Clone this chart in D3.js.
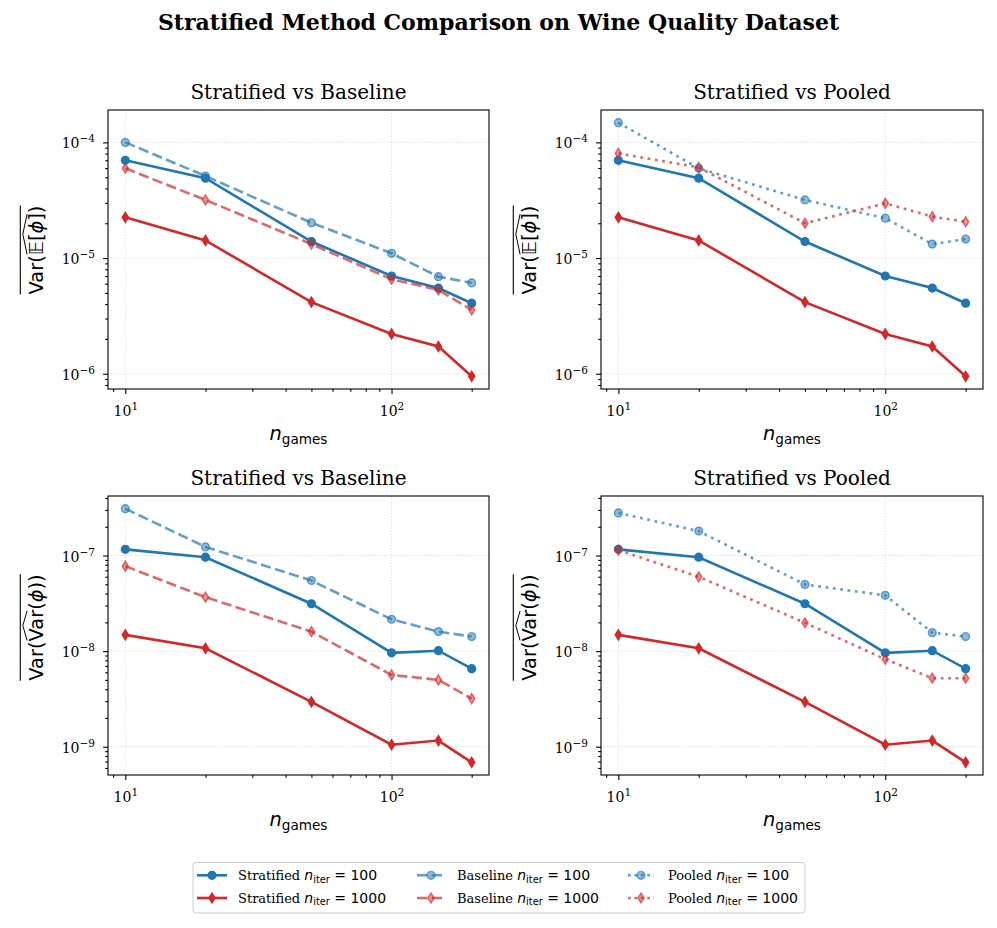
<!DOCTYPE html>
<html>
<head>
<meta charset="utf-8">
<script src="https://d3js.org/d3.v7.min.js"></script>
<style>
body { margin: 0; background: #fff; }
svg { display: block; }
</style>
</head>
<body>
<svg id="chart" width="997" height="928"></svg>
<script>
// data
var nGames = [10, 20, 50, 100, 150, 200];

// top row: mean of Var(E[phi])
var stratMean100  = [7.0e-5, 4.9e-5, 1.39e-5, 7.0e-6, 5.5e-6, 4.07e-6];
var stratMean1000 = [2.25e-5, 1.42e-5, 4.16e-6, 2.21e-6, 1.72e-6, 9.5e-7];
var baseMean100   = [1.0e-4, 5.12e-5, 2.02e-5, 1.10e-5, 6.9e-6, 6.1e-6];
var baseMean1000  = [5.97e-5, 3.18e-5, 1.32e-5, 6.56e-6, 5.3e-6, 3.57e-6];
var poolMean100   = [1.48e-4, 5.97e-5, 3.18e-5, 2.21e-5, 1.32e-5, 1.46e-5];
var poolMean1000  = [8.03e-5, 6.08e-5, 2.0e-5, 2.97e-5, 2.28e-5, 2.06e-5];

// bottom row: mean of Var(Var(phi))
var stratVar100  = [1.16e-7, 9.6e-8, 3.13e-8, 9.6e-9, 1.01e-8, 6.56e-9];
var stratVar1000 = [1.48e-8, 1.07e-8, 2.95e-9, 1.05e-9, 1.16e-9, 6.87e-10];
var baseVar100   = [3.09e-7, 1.23e-7, 5.48e-8, 2.15e-8, 1.6e-8, 1.42e-8];
var baseVar1000  = [7.74e-8, 3.67e-8, 1.6e-8, 5.64e-9, 5.0e-9, 3.19e-9];
var poolVar100   = [2.79e-7, 1.8e-7, 4.98e-8, 3.83e-8, 1.56e-8, 1.42e-8];
var poolVar1000  = [1.14e-7, 5.99e-8, 1.98e-8, 8.22e-9, 5.21e-9, 5.21e-9];

var panelTitles = ["Stratified vs Baseline", "Stratified vs Pooled"];
var legendLabels = [
    ["Stratified", "100"], ["Stratified", "1000"],
    ["Baseline", "100"], ["Baseline", "1000"],
    ["Pooled", "100"], ["Pooled", "1000"]
];

// colours and styles
var BLUE = "#1f77b4", RED = "#d62728";
var SERIF = "DejaVu Serif", SANS = "DejaVu Sans";
var LW = 2.6;
var DASHED = "10.3,4.4", DOTTED = "2.8,4.6";

var cols = [{left: 108, right: 489}, {left: 601, right: 983}];
var rows = [{top: 110, bottom: 389}, {top: 496, bottom: 775}];

var svg = d3.select("#chart");

// suptitle
svg.append("text")
   .attr("x", 498.5)
   .attr("y", 30)
   .attr("text-anchor", "middle")
   .style("font-family", SERIF)
   .style("font-weight", "bold")
   .style("font-size", "22px")
   .text("Stratified Method Comparison on Wine Quality Dataset");

// log-space padding like matplotlib autoscale (5%)
function paddedLogDomain(values) {
    var lo = Math.log10(d3.min(values)), hi = Math.log10(d3.max(values));
    var pad = (hi - lo) * 0.05;
    return [Math.pow(10, lo - pad), Math.pow(10, hi + pad)];
}

var xDomain = paddedLogDomain(nGames);
var rowSeries = [
    {s100: stratMean100, s1000: stratMean1000, base: [baseMean100, baseMean1000], pool: [poolMean100, poolMean1000], label: "mean"},
    {s100: stratVar100, s1000: stratVar1000, base: [baseVar100, baseVar1000], pool: [poolVar100, poolVar1000], label: "var"}
];

function sciLabel(sel, supSize) {
    sel.each(function(d) {
        var t = d3.select(this), e = Math.round(Math.log10(d));
        t.text(null);
        t.append("tspan").text("10");
        t.append("tspan")
         .attr("dy", "-0.58em")
         .style("font-size", supSize + "px")
         .text(e < 0 ? "\u2212" + (-e) : String(e));
    });
}

function isMajor(d) {
    var e = Math.log10(d);
    return Math.abs(e - Math.round(e)) < 1e-9;
}

// draws a horizontal run of math pieces, returns width and hat spans
function mathRun(g, parts, size) {
    var x = 0, hats = [], cur = null;
    parts.forEach(function(p) {
        var base = p.size || size;
        var fs = p.sub ? base * 0.7 : base;
        var t = g.append("text")
                 .attr("x", x)
                 .attr("y", p.sub ? base * 0.2 : 0)
                 .style("white-space", "pre")
                 .style("font-family", p.serif ? SERIF : SANS)
                 .style("font-style", p.it ? "italic" : "normal")
                 .style("font-size", fs + "px")
                 .text(p.t);
        var w = t.node().getComputedTextLength();
        if (p.hat) {
            if (cur) cur[1] = x + w; else { cur = [x, x + w]; hats.push(cur); }
        } else {
            cur = null;
        }
        x += w;
    });
    return {width: x, hats: hats};
}

function yLabel(parent, which, bx, cy) {
    var size = 19.4;
    var parts = which == "mean"
        ? [{t: "Var("}, {t: "\u{1D53C}", it: true, hat: true}, {t: "[", hat: true}, {t: "\u03D5", it: true, hat: true}, {t: "]", hat: true}, {t: ")"}]
        : [{t: "Var("}, {t: "Var", hat: true}, {t: "("}, {t: "\u03D5", it: true}, {t: "))"}];
    var g = parent.append("g");
    var run = mathRun(g, parts, size);
    g.attr("transform", "translate(" + bx + "," + cy + ") rotate(-90) translate(" + (-run.width / 2) + ",0)");
    // overline over the whole label
    g.append("line")
     .attr("x1", 0).attr("x2", run.width)
     .attr("y1", -size * 1.17).attr("y2", -size * 1.17)
     .attr("stroke", "#000").attr("stroke-width", 1.1);
    run.hats.forEach(function(h) {
        var mid = (h[0] + h[1]) / 2;
        g.append("path")
         .attr("d", "M" + (h[0] + 1) + "," + (-size * 0.82) + "L" + mid + "," + (-size * 1.04) + "L" + (h[1] - 1) + "," + (-size * 0.82))
         .attr("fill", "none").attr("stroke", "#000").attr("stroke-width", 1);
    });
}

function thinDiamond(h, w) {
    return "M0," + (-h) + "L" + w + ",0L0," + h + "L" + (-w) + ",0Z";
}

function drawMarkers(g, pts, shape, color, fillOp, strokeOp) {
    pts.forEach(function(p) {
        var m;
        if (shape == "o") {
            m = g.append("circle").attr("cx", p[0]).attr("cy", p[1]).attr("r", 3.9);
        } else {
            m = g.append("path").attr("d", thinDiamond(5.0, 3.1))
                 .attr("transform", "translate(" + p[0] + "," + p[1] + ")");
        }
        m.attr("fill", color).attr("fill-opacity", fillOp)
         .attr("stroke", color).attr("stroke-opacity", strokeOp)
         .attr("stroke-width", 1.4);
    });
}

function drawSeries(g, x, y, values, style) {
    var pts = nGames.map(function(n, i) { return [x(n), y(values[i])]; });
    var line = d3.line();
    g.append("path")
     .attr("d", line(pts))
     .attr("fill", "none")
     .attr("stroke", style.color)
     .attr("stroke-width", LW)
     .attr("stroke-opacity", style.opacity)
     .attr("stroke-dasharray", style.dash || null);
    drawMarkers(g, pts, style.marker, style.color, style.fillOp, style.strokeOp);
}

var styles = {
    s100:  {color: BLUE, marker: "o", opacity: 1, fillOp: 1, strokeOp: 1},
    s1000: {color: RED, marker: "d", opacity: 1, fillOp: 1, strokeOp: 1},
    c100:  {color: BLUE, marker: "o", opacity: 0.7, fillOp: 0.5, strokeOp: 0.65},
    c1000: {color: RED, marker: "d", opacity: 0.7, fillOp: 0.5, strokeOp: 0.65}
};

rows.forEach(function(rw, ri) {
    var rs = rowSeries[ri];
    var all = [].concat(rs.s100, rs.s1000, rs.base[0], rs.base[1], rs.pool[0], rs.pool[1]);
    var yDomain = paddedLogDomain(all);

    cols.forEach(function(cl, ci) {
        var width = cl.right - cl.left, height = rw.bottom - rw.top;
        var x = d3.scaleLog().domain(xDomain).range([0, width]);
        var y = d3.scaleLog().domain(yDomain).range([height, 0]);
        var chart = svg.append("g")
                       .attr("transform", "translate(" + cl.left + "," + rw.top + ")");

        var xt = x.ticks(), yt = y.ticks();
        var xMajor = xt.filter(isMajor), xMinor = xt.filter(function(d) { return !isMajor(d); });
        var yMajor = yt.filter(isMajor), yMinor = yt.filter(function(d) { return !isMajor(d); });

        // grid
        var grid = chart.append("g")
                        .attr("stroke", "#b0b0b0")
                        .attr("stroke-opacity", 0.6)
                        .attr("stroke-width", 0.8)
                        .attr("stroke-dasharray", "1.1,1.8");
        xMajor.forEach(function(d) {
            grid.append("line").attr("x1", x(d)).attr("x2", x(d)).attr("y1", 0).attr("y2", height);
        });
        yMajor.forEach(function(d) {
            grid.append("line").attr("x1", 0).attr("x2", width).attr("y1", y(d)).attr("y2", y(d));
        });

        // axes
        var xAxis = chart.append("g")
                         .attr("transform", "translate(0," + height + ")")
                         .call(d3.axisBottom(x).tickValues(xMajor).tickSize(4.9).tickSizeOuter(0));
        xAxis.selectAll("text")
             .attr("y", 27).attr("dy", null)
             .style("font-family", SERIF).style("font-size", "14px")
             .call(sciLabel, 10.5);
        chart.append("g")
             .attr("transform", "translate(0," + height + ")")
             .call(d3.axisBottom(x).tickValues(xMinor).tickSize(2.8).tickSizeOuter(0).tickFormat(""));

        var yAxis = chart.append("g")
                         .call(d3.axisLeft(y).tickValues(yMajor).tickSize(4.9).tickSizeOuter(0));
        yAxis.selectAll("text")
             .attr("x", -13).attr("dy", "0.4em")
             .style("font-family", SERIF).style("font-size", "14px")
             .call(sciLabel, 10.5);
        chart.append("g")
             .call(d3.axisLeft(y).tickValues(yMinor).tickSize(2.8).tickSizeOuter(0).tickFormat(""));

        chart.selectAll(".domain").remove();
        chart.selectAll(".tick line").attr("stroke", "#000").attr("stroke-width", 1.1);

        // series
        var comp = ci == 0 ? rs.base : rs.pool;
        var dash = ci == 0 ? DASHED : DOTTED;
        var plot = chart.append("g");
        drawSeries(plot, x, y, rs.s100, styles.s100);
        drawSeries(plot, x, y, rs.s1000, styles.s1000);
        drawSeries(plot, x, y, comp[0], Object.assign({dash: dash}, styles.c100));
        drawSeries(plot, x, y, comp[1], Object.assign({dash: dash}, styles.c1000));

        // frame
        chart.append("rect")
             .attr("width", width).attr("height", height)
             .attr("fill", "none").attr("stroke", "#000").attr("stroke-width", 1.1);

        // panel title
        chart.append("text")
             .attr("x", width / 2)
             .attr("y", ri == 0 ? -11.5 : -11)
             .attr("text-anchor", "middle")
             .style("font-family", SERIF)
             .style("font-size", "20px")
             .text(panelTitles[ci]);

        // x label
        var xl = chart.append("g");
        var run = mathRun(xl, [{t: "n", it: true}, {t: "games", sub: true}], 19.4);
        xl.attr("transform", "translate(" + (width / 2 - run.width / 2) + "," + (height + 51) + ")");

        // y label
        yLabel(chart, rs.label, -65, ri == 0 ? height / 2 + 0.5 : height / 2 - 8);
    });
});

// legend
var legend = svg.append("g");
legend.append("rect")
      .attr("x", 193).attr("y", 862.5)
      .attr("width", 612).attr("height", 50.5)
      .attr("rx", 3)
      .attr("fill", "#fff").attr("fill-opacity", 0.8)
      .attr("stroke", "#cccccc").attr("stroke-width", 1);

var legendCols = [{h0: 197, h1: 227, tx: 238}, {h0: 417, h1: 445, tx: 457}, {h0: 628, h1: 654, tx: 668}];
var legendRows = [875.3, 898];
legendLabels.forEach(function(lab, i) {
    var c = legendCols[Math.floor(i / 2)], ry = legendRows[i % 2];
    var st = i == 0 ? styles.s100 : i == 1 ? styles.s1000 : (i % 2 == 0 ? styles.c100 : styles.c1000);
    var dash = i < 2 ? null : (i < 4 ? DASHED : "2.8,3.6");
    legend.append("line")
          .attr("x1", c.h0).attr("x2", c.h1)
          .attr("y1", ry).attr("y2", ry)
          .attr("stroke", st.color).attr("stroke-width", LW)
          .attr("stroke-opacity", st.opacity)
          .attr("stroke-dasharray", dash);
    drawMarkers(legend, [[(c.h0 + c.h1) / 2, ry]], st.marker, st.color, st.fillOp, st.strokeOp);

    var tg = legend.append("g").attr("transform", "translate(" + c.tx + "," + (ry + 4.5) + ")");
    mathRun(tg, [
        {t: lab[0] + " ", serif: true, size: 13},
        {t: "n", it: true},
        {t: "iter", sub: true},
        {t: " = " + lab[1]}
    ], 14);
});
</script>
</body>
</html>
